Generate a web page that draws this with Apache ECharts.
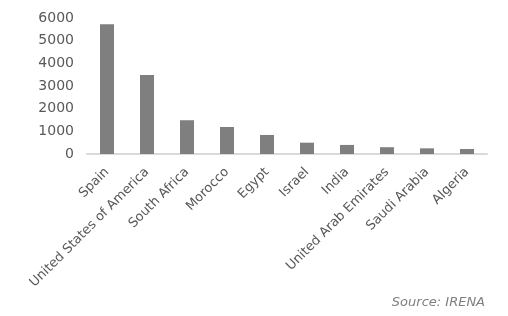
<!DOCTYPE html>
<html>
<head>
<meta charset="utf-8">
<script src="https://cdn.jsdelivr.net/npm/echarts@6/dist/echarts.min.js"></script>
<style>html,body{margin:0;padding:0;background:#fff;}#c{width:508px;height:316px;}</style>
</head>
<body>
<div id="c"></div>
<script>
const categories = ["Spain","United States of America","South Africa","Morocco","Egypt","Israel","India","United Arab Emirates","Saudi Arabia","Algeria"];
const values = [5720, 3490, 1490, 1190, 840, 500, 400, 300, 250, 220];
const yTicks = [0, 1000, 2000, 3000, 4000, 5000, 6000];
const sourceText = "Source: IRENA";

const chart = echarts.init(document.getElementById('c'), null, {renderer: 'canvas'});
const font = "DejaVu Sans";
chart.setOption({
  animation: false,
  backgroundColor: '#ffffff',
  grid: {left: 87, right: 21, top: 18, bottom: 162, containLabel: false},
  xAxis: {
    type: 'category',
    data: categories,
    axisLine: {show: true, lineStyle: {color: '#d9d9d9', width: 2}},
    axisTick: {show: false},
    axisLabel: {rotate: 45, interval: 0, margin: 16, color: '#595959', fontFamily: font, fontSize: 13}
  },
  yAxis: {
    type: 'value',
    min: yTicks[0],
    max: yTicks[yTicks.length - 1],
    interval: 1000,
    splitLine: {show: false},
    axisLine: {show: false},
    axisTick: {show: false},
    axisLabel: {margin: 13, color: '#595959', fontFamily: font, fontSize: 14, formatter: v => String(v)}
  },
  series: [{
    type: 'bar',
    data: values,
    barWidth: 14,
    itemStyle: {color: '#7f7f7f'}
  }],
  graphic: [{
    type: 'text',
    right: 23,
    top: 296,
    style: {text: sourceText, fill: '#7f7f7f', font: 'italic 13px "DejaVu Sans"'}
  }]
});
</script>
</body>
</html>
